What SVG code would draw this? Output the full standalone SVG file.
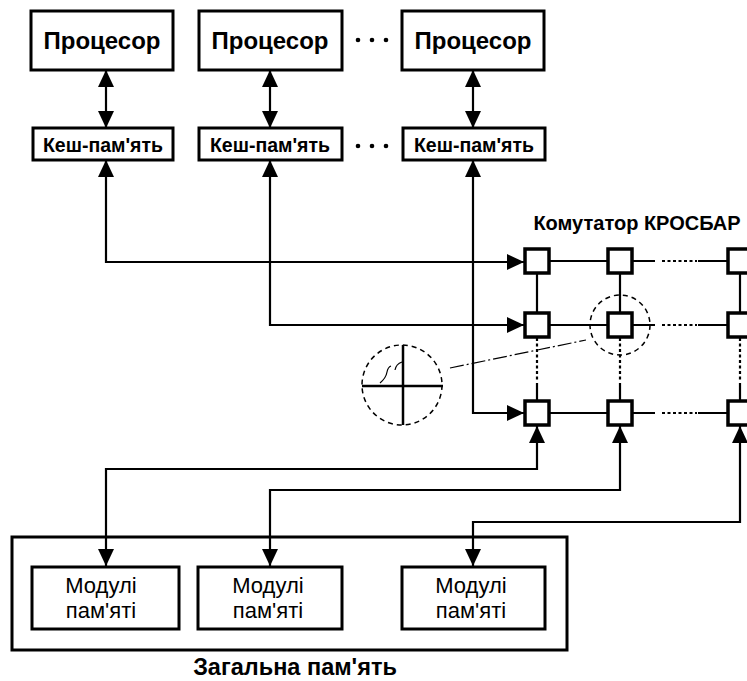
<svg xmlns="http://www.w3.org/2000/svg" width="747" height="681" viewBox="0 0 747 681">
<defs>
<style>
.box{fill:#fff;stroke:#000;stroke-width:3}
.sq{fill:#fff;stroke:#000;stroke-width:3.5}
.ln{fill:none;stroke:#000;stroke-width:2.2}
.dot{fill:none;stroke:#000;stroke-width:2.2;stroke-dasharray:3 2.5}
.dc{fill:none;stroke:#000;stroke-width:1.5;stroke-dasharray:5 4}
.thin{fill:none;stroke:#000;stroke-width:1.2}
.tb{font-family:"Liberation Sans",Arial,sans-serif;font-weight:bold;fill:#000;text-anchor:middle}
.tr{font-family:"Liberation Sans",Arial,sans-serif;fill:#000;text-anchor:middle}
</style>
<marker id="ah" markerUnits="userSpaceOnUse" markerWidth="17" markerHeight="17" viewBox="0 0 17 16" refX="17" refY="8" orient="auto-start-reverse">
<path d="M0,0 L17,8 L0,16 z" fill="#000"/>
</marker>
</defs>
<rect width="747" height="681" fill="#fff"/>

<g id="proc1"><rect class="box" x="31" y="11" width="142" height="59"/><text class="tb" x="102" y="49" font-size="24">Процесор</text></g>
<g id="proc2"><rect class="box" x="199" y="11" width="143" height="59"/><text class="tb" x="270" y="49" font-size="24">Процесор</text></g>
<g id="proc3"><rect class="box" x="402" y="11" width="142" height="59"/><text class="tb" x="473" y="49" font-size="24">Процесор</text></g>

<g id="cache1"><rect class="box" x="33" y="128" width="140" height="32"/><text class="tb" x="103" y="152" font-size="19.5">Кеш-пам'ять</text></g>
<g id="cache2"><rect class="box" x="199" y="128" width="143" height="32"/><text class="tb" x="270" y="152" font-size="19.5">Кеш-пам'ять</text></g>
<g id="cache3"><rect class="box" x="403" y="128" width="142" height="32"/><text class="tb" x="474" y="152" font-size="19.5">Кеш-пам'ять</text></g>

<g id="dots">
<circle cx="358" cy="40" r="2.3"/><circle cx="372" cy="40" r="2.3"/><circle cx="386" cy="40" r="2.3"/>
<circle cx="358" cy="146" r="2.3"/><circle cx="372" cy="146" r="2.3"/><circle cx="386" cy="146" r="2.3"/>
<circle cx="358" cy="596" r="2.3"/><circle cx="372" cy="596" r="2.3"/><circle cx="386" cy="596" r="2.3"/>
</g>

<g id="memory">
<rect class="box" x="12" y="537" width="555" height="113"/>
<text class="tb" x="295" y="675" font-size="23.5">Загальна пам'ять</text>
</g>
<g id="mod1"><rect class="box" x="32" y="567" width="147" height="62"/><text class="tr" x="101" y="593" font-size="22">Модулі</text><text class="tr" x="101" y="618" font-size="22">пам'яті</text></g>
<g id="mod2"><rect class="box" x="198" y="567" width="144" height="62"/><text class="tr" x="268" y="593" font-size="22">Модулі</text><text class="tr" x="268" y="618" font-size="22">пам'яті</text></g>
<g id="mod3"><rect class="box" x="402" y="567" width="143" height="62"/><text class="tr" x="471" y="593" font-size="22">Модулі</text><text class="tr" x="471" y="618" font-size="22">пам'яті</text></g>

<g id="crossbar">
<text class="tb" x="637" y="230" font-size="20">Комутатор КРОСБАР</text>
<g id="grid-lines">
<path class="ln" d="M549,261 H608 M632,261 H655 M698,261 H728"/>
<path class="dot" d="M662,261 H697"/>
<path class="ln" d="M549,325 H608 M632,325 H655 M698,325 H728"/>
<path class="dot" d="M662,325 H697"/>
<path class="ln" d="M549,413 H608 M632,413 H655 M698,413 H728"/>
<path class="dot" d="M662,413 H697"/>
<path class="ln" d="M537,273 V313 M537,383 V401 M620,273 V313 M620,383 V401 M740,273 V313 M740,383 V401"/>
<path class="dot" d="M537,338 V382 M620,338 V382 M740,338 V382"/>
</g>
<rect class="sq" x="525" y="249" width="24" height="24"/>
<rect class="sq" x="608" y="249" width="24" height="24"/>
<rect class="sq" x="728" y="249" width="24" height="24"/>
<rect class="sq" x="525" y="313" width="24" height="24"/>
<rect class="sq" x="608" y="313" width="24" height="24"/>
<rect class="sq" x="728" y="313" width="24" height="24"/>
<rect class="sq" x="525" y="401" width="24" height="24"/>
<rect class="sq" x="608" y="401" width="24" height="24"/>
<rect class="sq" x="728" y="401" width="24" height="24"/>
<circle class="dc" cx="620" cy="325" r="30"/>
</g>

<g id="detail">
<circle class="dc" cx="402" cy="385" r="40"/>
<path d="M362,386 H443 M403,345 V425" fill="none" stroke="#000" stroke-width="2.5"/>
<path class="thin" d="M380,383 Q386,378 387,372 Q388,367 391,366 M395,370 Q396,364 402,362"/>
<path class="thin" d="M450,368 L586,340" stroke-dasharray="14 3 2 3"/>
</g>

<g id="connectors">
<path class="ln" d="M106,70 V128" marker-start="url(#ah)" marker-end="url(#ah)"/>
<path class="ln" d="M270,70 V128" marker-start="url(#ah)" marker-end="url(#ah)"/>
<path class="ln" d="M473,70 V128" marker-start="url(#ah)" marker-end="url(#ah)"/>
<path class="ln" d="M106,160 V262 H524" marker-start="url(#ah)" marker-end="url(#ah)"/>
<path class="ln" d="M270,160 V325 H524" marker-start="url(#ah)" marker-end="url(#ah)"/>
<path class="ln" d="M473,160 V413 H524" marker-start="url(#ah)" marker-end="url(#ah)"/>
<path class="ln" d="M537,426 V469 H106 V566" marker-start="url(#ah)" marker-end="url(#ah)"/>
<path class="ln" d="M620,426 V490 H270 V566" marker-start="url(#ah)" marker-end="url(#ah)"/>
<path class="ln" d="M740,426 V522 H473 V566" marker-start="url(#ah)" marker-end="url(#ah)"/>
</g>
</svg>
